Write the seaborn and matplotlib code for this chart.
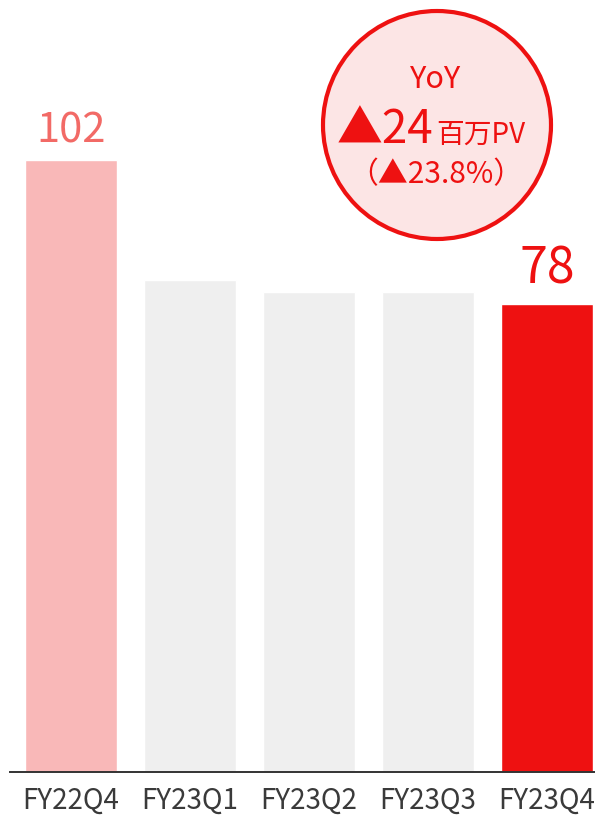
import matplotlib
matplotlib.use("Agg")
import matplotlib.pyplot as plt
import seaborn as sns
import pandas as pd
from matplotlib.patches import Ellipse

categories = ["FY22Q4", "FY23Q1", "FY23Q2", "FY23Q3", "FY23Q4"]
values = [102, 82, 80, 80, 78]
bar_colors = ["#f9b8b8", "#efefef", "#efefef", "#efefef", "#ee1111"]
labels = {0: ("102", "#f26a66", 30), 4: ("78", "#ee1111", 36)}

sns.set_theme(style="white")
FONT = ["Noto Sans CJK JP", "DejaVu Sans"]
plt.rcParams["font.family"] = FONT

W, H = 595, 817
fig = plt.figure(figsize=(W / 100, H / 100), dpi=100)
ax = fig.add_axes([10 / W, 45 / H, 1 - 10 / W, 772 / H])

df = pd.DataFrame({"cat": categories, "val": values})
sns.barplot(data=df, x="cat", y="val", hue="cat", palette=bar_colors,
            legend=False, width=0.773, saturation=1, ax=ax)

ax.set_xlim(-0.513, 4.403)
ax.set_ylim(0, 772 / 6)
ax.set_xlabel("")
ax.set_ylabel("")
ax.set_yticks([])
for s in ["top", "right", "left"]:
    ax.spines[s].set_visible(False)
ax.spines["bottom"].set_color("#333333")
ax.spines["bottom"].set_linewidth(1.4)
ax.tick_params(axis="x", length=0, pad=10, labelsize=20, colors="#3a3a3a")

for i, (txt, col, sz) in labels.items():
    ax.annotate(txt, (i, values[i]), xytext=(0, 6), textcoords="offset points",
                ha="center", va="bottom", color=col, fontsize=sz)

# YoY circle
cx, cy, r = 437, 125, 114
circ = Ellipse((cx / W, 1 - cy / H), 2 * r / W, 2 * r / H,
               transform=fig.transFigure, facecolor="#fce5e5",
               edgecolor="#ee1111", linewidth=3.0)
fig.add_artist(circ)
red = "#ee1111"
fig.text(436 / W, 1 - 88 / H, "YoY", ha="center", va="baseline", color=red, fontsize=22)
fig.text(433 / W, 1 - 143 / H, "▲24", ha="right", va="baseline", color=red, fontsize=33)
fig.text(436 / W, 1 - 143 / H, "百万PV", ha="left", va="baseline", color=red, fontsize=20)
fig.text(436 / W, 1 - 183 / H, "（▲23.8%）", ha="center", va="baseline", color=red, fontsize=21.5)

fig.savefig("out.png", dpi=100)
